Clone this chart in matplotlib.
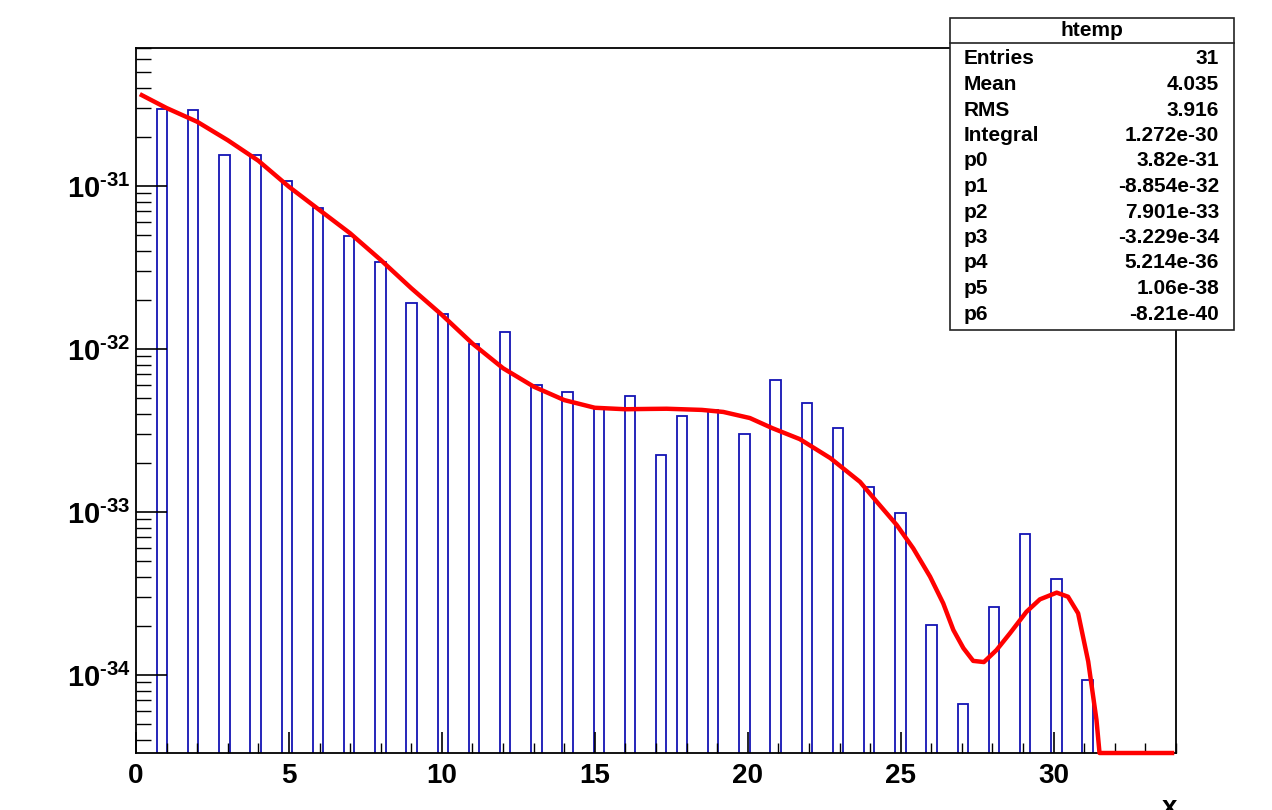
import numpy as np
import matplotlib
matplotlib.use("Agg")
import matplotlib.pyplot as plt
from matplotlib.ticker import MultipleLocator, FixedLocator, LogLocator, NullFormatter, FuncFormatter
from matplotlib.patches import Rectangle

# histogram entries (x position, weight)
entry_x = [1, 2, 3, 4, 5, 6, 7, 8, 9, 10, 11, 12, 13, 14, 15, 16,
           17, 18, 19, 20, 21, 22, 23, 24, 25, 26, 27, 28, 29, 30, 31]
entry_w = [2.96e-31, 2.91e-31, 1.54e-31, 1.56e-31, 1.08e-31, 7.30e-32,
           4.93e-32, 3.42e-32, 1.92e-32, 1.63e-32, 1.08e-32, 1.28e-32,
           6.01e-33, 5.42e-33, 4.42e-33, 5.17e-33, 2.23e-33, 3.86e-33,
           4.23e-33, 3.00e-33, 6.49e-33, 4.67e-33, 3.27e-33, 1.42e-33,
           9.82e-34, 2.02e-34, 6.64e-35, 2.62e-34, 7.36e-34, 3.90e-34,
           9.31e-35]
nbins = 100
xmin, xmax = 0.0, 34.0

# fitted pol6 curve (0 = below the frame)
fit_x = [0.19, 1.0, 2.0, 3.0, 4.0, 5.0, 6.0, 7.0, 8.0, 9.0, 10.0, 11.0,
         12.0, 13.0, 14.0, 15.0, 16.0, 16.8, 17.35, 18.5, 19.2, 20.07,
         20.8, 21.7, 22.7, 23.67, 24.21, 24.87, 25.41, 25.96, 26.39,
         26.72, 27.05, 27.37, 27.72, 28.13, 28.57, 29.11, 29.55, 30.10,
         30.47, 30.80, 31.13, 31.40, 31.50, 33.87]
fit_y = [3.61e-31, 3.01e-31, 2.48e-31, 1.91e-31, 1.43e-31, 9.9e-32,
         7.12e-32, 5.13e-32, 3.52e-32, 2.36e-32, 1.62e-32, 1.08e-32,
         7.62e-33, 5.88e-33, 4.86e-33, 4.36e-33, 4.27e-33, 4.29e-33,
         4.30e-33, 4.23e-33, 4.11e-33, 3.77e-33, 3.27e-33, 2.80e-33,
         2.14e-33, 1.53e-33, 1.16e-33, 8.32e-34, 5.98e-34, 4.01e-34,
         2.75e-34, 1.89e-34, 1.46e-34, 1.22e-34, 1.20e-34, 1.42e-34,
         1.80e-34, 2.44e-34, 2.91e-34, 3.20e-34, 3.02e-34, 2.39e-34,
         1.21e-34, 5.30e-35, 0.0, 0.0]

ylo, yhi = 3.32e-35, 7.03e-31
y_decades = [1e-34, 1e-33, 1e-32, 1e-31]

stat_names = ["Entries", "Mean", "RMS", "Integral", "p0", "p1", "p2",
              "p3", "p4", "p5", "p6"]
stat_values = ["31", "4.035", "3.916", "1.272e-30", "3.82e-31",
               "-8.854e-32", "7.901e-33", "-3.229e-34", "5.214e-36",
               "1.06e-38", "-8.21e-40"]

plt.rcParams['font.family'] = ['Liberation Sans', 'DejaVu Sans']
plt.rcParams['mathtext.fontset'] = 'custom'
plt.rcParams['mathtext.rm'] = 'Liberation Sans:bold'
plt.rcParams['mathtext.bf'] = 'Liberation Sans:bold'
plt.rcParams['mathtext.it'] = 'Liberation Sans:bold'

W, H = 1272, 810
fig = plt.figure(figsize=(W / 100, H / 100), dpi=100)
ax = fig.add_axes([136 / W, (H - 753) / H, 1040 / W, 705 / H])

# bars: one bin per entry
bw = (xmax - xmin) / nbins
ex = np.array(entry_x, dtype=float)
idx = np.floor((ex - xmin) * nbins / (xmax - xmin))
left = xmin + idx * bw
ax.bar(left, entry_w, width=bw, align='edge', fill=False,
       edgecolor='#1414b4', linewidth=1.3)

fy = np.maximum(np.array(fit_y), ylo)
ax.plot(fit_x, fy, color='#ff0000', linewidth=3.2, solid_joinstyle='round',
        clip_on=False, zorder=3)

ax.set_yscale('log')
ax.set_xlim(xmin, xmax)
ax.set_ylim(ylo, yhi)

ax.xaxis.set_major_locator(MultipleLocator(5))
ax.xaxis.set_minor_locator(MultipleLocator(1))
ax.yaxis.set_major_locator(FixedLocator(y_decades))
ax.yaxis.set_minor_locator(LogLocator(base=10, subs=np.arange(2, 10)))
ax.yaxis.set_minor_formatter(NullFormatter())
ax.yaxis.set_major_formatter(
    FuncFormatter(lambda v, p: r'$10^{\text{-}%d}$' % abs(int(round(np.log10(v))))))

ax.tick_params(axis='both', which='both', direction='in', top=False,
               right=False, color='black')
ax.tick_params(axis='x', which='major', length=15, width=1.2, pad=7,
               labelsize=20)
ax.tick_params(axis='x', which='minor', length=7.2, width=1.0)
ax.tick_params(axis='y', which='major', length=22.3, width=1.2, pad=4,
               labelsize=21)
ax.tick_params(axis='y', which='minor', length=10.8, width=1.0)
for lab in ax.get_xticklabels():
    lab.set_fontweight('bold')
for sp in ax.spines.values():
    sp.set_linewidth(1.3)
    sp.set_color('black')

# x axis title, cut by the bottom edge like in the original
fig.text(1177 / W, (H - 795) / H, 'x', ha='right', va='top',
         fontsize=20, fontweight='bold')

# stats box
bx0, bx1, by0, by1 = 950, 1234, 18, 330
fig.patches.append(Rectangle((bx0 / W, (H - by1) / H), (bx1 - bx0) / W,
                             (by1 - by0) / H, transform=fig.transFigure,
                             facecolor='white', edgecolor='#222222',
                             linewidth=1.2, zorder=5))
fig.lines.append(plt.Line2D([bx0 / W, bx1 / W], [(H - 42.5) / H] * 2,
                            transform=fig.transFigure, color='#222222',
                            linewidth=1.2, zorder=6))
fig.text((bx0 + bx1) / 2 / W, (H - 31) / H, 'htemp', ha='center',
         va='center', fontsize=15, fontweight='bold', zorder=7)
for i, (n, v) in enumerate(zip(stat_names, stat_values)):
    yy = (H - (59 + i * 25.5)) / H
    fig.text(964 / W, yy, n, ha='left', va='center', fontsize=15,
             fontweight='bold', zorder=7)
    fig.text(1219 / W, yy, v, ha='right', va='center', fontsize=15,
             fontweight='bold', zorder=7)

fig.savefig('out.png', dpi=100)
